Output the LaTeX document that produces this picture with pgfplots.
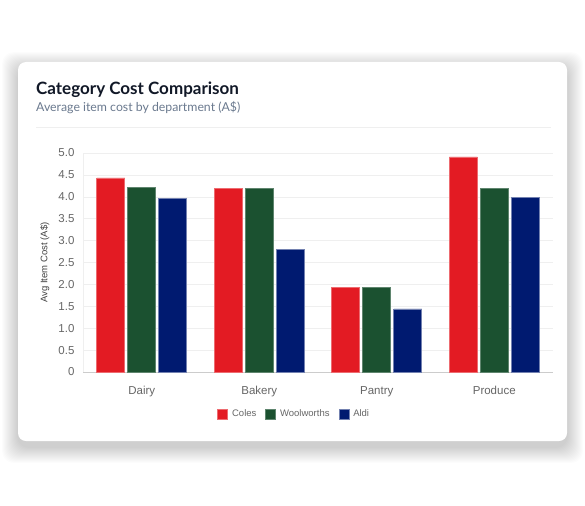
\documentclass[border=0pt]{standalone}
\usepackage{fontspec}
\usepackage{pgfplots}
\pgfplotsset{compat=1.18}
\setmainfont{Liberation Sans}
\newfontfamily\titlefont{Lato}
\definecolor{coles}{HTML}{E31B23}
\definecolor{wool}{HTML}{1B5130}
\definecolor{aldi}{HTML}{001A70}
\definecolor{ink}{HTML}{111827}
\definecolor{subgray}{HTML}{6B7A8F}
\definecolor{gridgray}{HTML}{EFEFEF}
\definecolor{tickgray}{HTML}{666666}
\begin{document}
\begin{tikzpicture}[x=1pt,y=1pt]
\fill[white] (0pt,0pt) rectangle (585pt,-505pt);
\foreach \i in {1,...,16}{
  \fill[black,opacity=0.010,rounded corners=12pt] (18-\i,-62+\i-6) rectangle (567+\i,-441-\i-6);
}
\fill[white,rounded corners=8pt] (18,-62) rectangle (567,-441);
\node[anchor=base west,inner sep=0,font=\titlefont\bfseries\fontsize{17}{20}\selectfont,text=ink] at (36,-95) {Category Cost Comparison};
\node[anchor=base west,inner sep=0,font=\titlefont\fontsize{12.3}{15}\selectfont,text=subgray] at (36,-112) {Average item cost by department (A\$)};
\draw[color=gridgray,line width=0.6pt] (36,-127.5) -- (551,-127.5);
\begin{axis}[
  at={(83pt,-372pt)}, anchor=south west,
  scale only axis, width=470pt, height=219pt,
  xmin=-0.5, xmax=3.5, ymin=0, ymax=5,
  ybar=3pt, bar width=28pt,
  xtick={0,1,2,3}, xticklabels={Dairy,Bakery,Pantry,Produce},
  ytick={0,0.5,1,1.5,2,2.5,3,3.5,4,4.5,5},
  yticklabels={0,0.5,1.0,1.5,2.0,2.5,3.0,3.5,4.0,4.5,5.0},
  major tick length=0pt,
  ymajorgrids, grid style={color=gridgray,line width=0.6pt},
  axis x line*=bottom, axis y line*=left,
  x axis line style={color=black!20,line width=0.8pt},
  y axis line style={color=gridgray,line width=0.8pt},
  tick label style={text=tickgray},
  yticklabel style={font=\fontsize{11.5}{13}\selectfont, xshift=-5pt},
  xticklabel style={font=\fontsize{11.5}{13}\selectfont, yshift=-11pt},
  ylabel={Avg Item Cost (A\$)},
  every axis y label/.style={at={(axis description cs:-0.081,0.5)},rotate=90,anchor=center,font=\fontsize{9.5}{11}\selectfont,text=black!75},
  legend columns=3,
  legend style={at={(axis description cs:0.4495,-0.1925)},anchor=center,draw=none,fill=none,
    font=\fontsize{9.5}{11}\selectfont,text=tickgray,
    /tikz/every odd column/.append style={column sep=2pt},
    /tikz/every even column/.append style={column sep=7pt}},
  legend image code/.code={\fill[#1] (0pt,-5pt) rectangle (10pt,5pt);},
]
\addplot[fill=coles,draw=coles!65!white,line width=0.7pt] coordinates {(0,4.43) (1,4.20) (2,1.94) (3,4.91)};
\addplot[fill=wool,draw=wool!70!white,line width=0.7pt] coordinates {(0,4.21) (1,4.20) (2,1.94) (3,4.20)};
\addplot[fill=aldi,draw=aldi!55!white,line width=0.7pt] coordinates {(0,3.97) (1,2.79) (2,1.44) (3,3.99)};
\legend{Coles,Woolworths,Aldi}
\end{axis}
\end{tikzpicture}
\end{document}
